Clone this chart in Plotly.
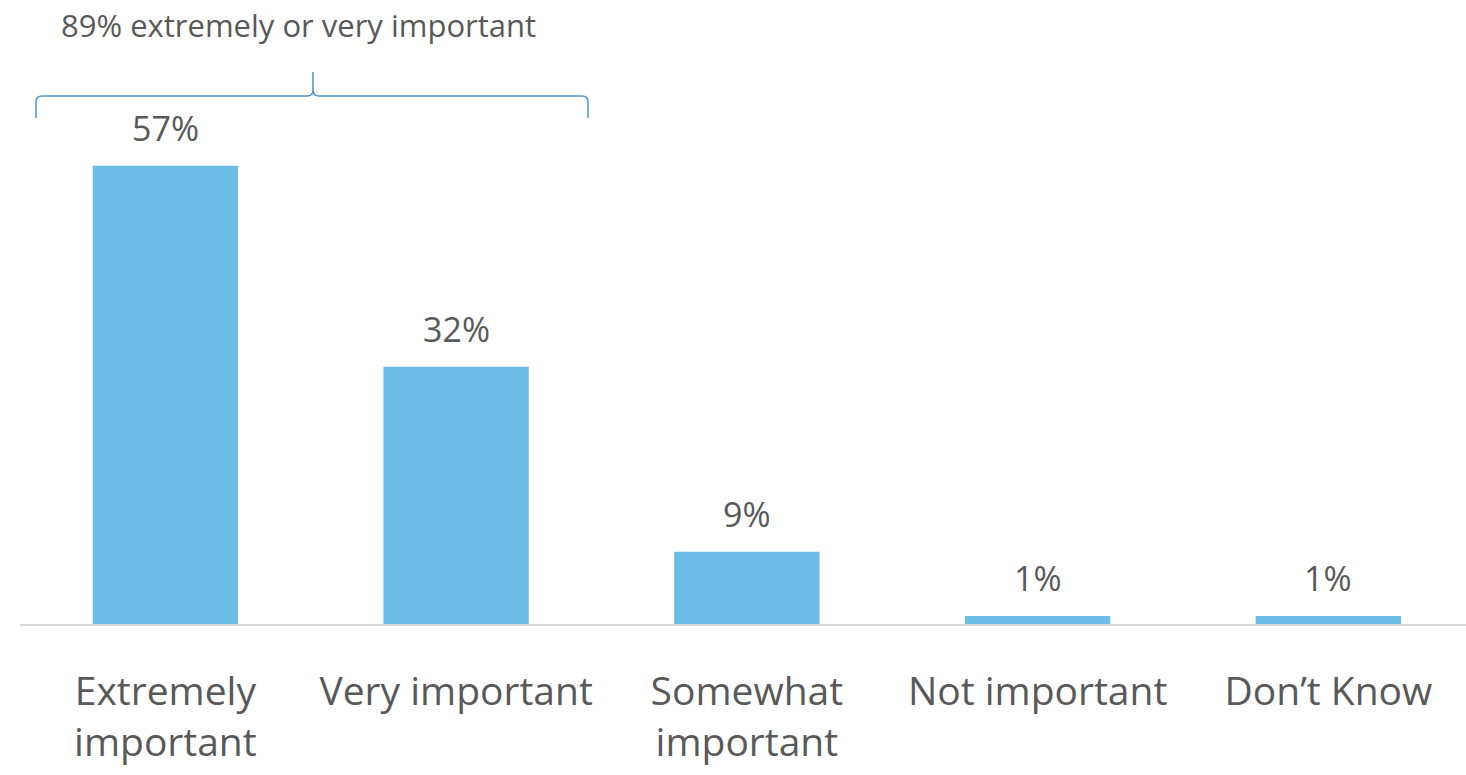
import plotly.graph_objects as go

categories = ["Extremely<br>important", "Very important", "Somewhat<br>important", "Not important", "Don’t Know"]
values = [57, 32, 9, 1, 1]
value_labels = ["57%", "32%", "9%", "1%", "1%"]
bracket_label = "89% extremely or very important"

W, H = 1466, 775
ML, MR, MT, MB = 20, 0, 0, 151
pw = W - ML - MR
ph = H - MT - MB

xs = list(range(len(categories)))
bar_color = "#6BBDE8"
text_color = "#595959"

fig = go.Figure()
fig.add_trace(go.Bar(x=xs, y=values, width=0.5, marker=dict(color=bar_color, line=dict(width=0)),
                     hoverinfo="skip"))

for x, v, t in zip(xs, values, value_labels):
    fig.add_annotation(x=x, y=v, text=t, showarrow=False, yanchor="bottom", yshift=13,
                       font=dict(size=34, color=text_color, family="Open Sans"))

# bracket in paper coords
def px(xp):
    return (xp - ML) / pw
def py(yp):
    return (H - MB - yp) / ph

xl, xr, xc = 36, 588, 313
ytop, yend, yspike = 96, 118, 72
r = 6
path = (f"M {px(xl)},{py(yend)} L {px(xl)},{py(ytop + r)} Q {px(xl)},{py(ytop)} {px(xl + r)},{py(ytop)} "
        f"L {px(xc - r)},{py(ytop)} Q {px(xc)},{py(ytop)} {px(xc)},{py(ytop - r)} L {px(xc)},{py(yspike)} "
        f"M {px(xc)},{py(ytop - r)} Q {px(xc)},{py(ytop)} {px(xc + r)},{py(ytop)} "
        f"L {px(xr - r)},{py(ytop)} Q {px(xr)},{py(ytop)} {px(xr)},{py(ytop + r)} L {px(xr)},{py(yend)}")
fig.add_shape(type="path", path=path, xref="paper", yref="paper",
              line=dict(color="#4F94C8", width=1.5))
fig.add_annotation(x=px(298), y=py(25), xref="paper", yref="paper", text=bracket_label,
                   showarrow=False, xanchor="center", yanchor="middle",
                   font=dict(size=31, color=text_color, family="Open Sans"))

x_unit = 290.75
x_range = [-0.5, -0.5 + pw / x_unit]
y_max = ph / 8.04

fig.update_layout(
    width=W, height=H,
    margin=dict(l=ML, r=MR, t=MT, b=MB),
    paper_bgcolor="white", plot_bgcolor="white",
    showlegend=False,
    xaxis=dict(range=x_range, tickmode="array", tickvals=xs, ticktext=categories,
               showline=True, linecolor="#D9D9D9", linewidth=2, showgrid=False, zeroline=False,
               ticks="", ticklabelstandoff=32,
               tickfont=dict(size=39, color=text_color, family="Open Sans")),
    yaxis=dict(range=[0, y_max], visible=False, showgrid=False, zeroline=False),
)

fig.write_html("out.html", config={"displayModeBar": False},
               post_script="document.body.style.margin='0';")
